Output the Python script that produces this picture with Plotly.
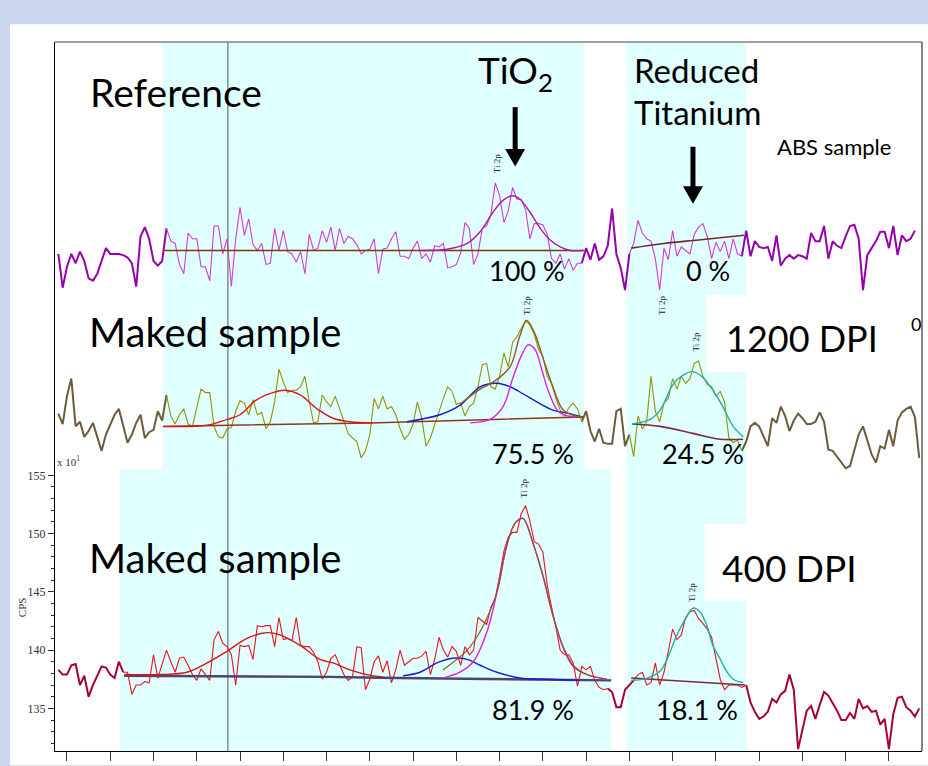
import numpy as np
import plotly.graph_objects as go

# ---------------- data ----------------
# sampling grid of the spectra (arbitrary energy steps, 0.1 per step, one major tick = 1)
X = np.round(np.arange(200) * 0.1 - 0.2, 2)

ref_counts = [
    174.0,171.1,172.9,174.0,173.2,174.2,173.4,171.9,171.7,172.3,
    173.4,174.5,174.0,174.0,174.0,173.9,173.7,173.2,171.2,175.5,
    176.3,175.3,173.4,173.0,173.4,176.2,175.1,174.9,173.1,172.3,
    175.8,175.3,175.3,172.9,172.9,171.7,176.4,176.4,174.0,175.3,
    171.2,175.3,178.0,175.6,177.0,174.8,174.3,174.9,173.1,173.2,
    176.2,174.3,176.0,174.2,174.0,173.3,174.2,172.3,175.7,174.3,
    174.5,176.0,175.0,176.3,174.3,176.2,174.9,175.5,175.3,174.8,
    174.0,174.3,174.4,175.3,172.3,174.4,174.5,175.3,175.9,173.8,
    173.8,173.6,174.5,175.1,173.6,174.0,173.3,174.7,174.6,174.9,
    172.8,172.9,173.1,174.1,176.7,176.2,173.1,174.0,176.2,176.4,
    177.4,180.1,179.0,176.7,177.7,179.7,178.7,178.7,177.8,175.3,
    176.6,176.6,176.5,175.7,173.6,173.2,174.0,172.7,173.6,172.6,
    173.2,173.2,174.5,173.5,174.9,173.5,173.8,174.7,177.9,174.0,
    172.8,170.9,174.0,174.9,176.9,175.8,175.3,175.1,173.6,170.9,
    174.5,173.5,176.0,173.8,174.6,174.3,174.0,175.7,176.3,176.6,
    175.5,173.6,175.0,174.2,175.1,173.6,175.3,174.0,173.8,176.0,
    173.8,175.1,174.6,174.5,174.6,173.4,175.6,173.0,173.6,173.9,
    173.6,173.9,173.8,173.6,175.8,175.1,175.1,176.4,173.6,175.1,
    174.7,174.5,175.5,176.4,176.5,175.3,170.9,173.9,174.5,175.1,
    175.9,175.9,174.5,176.4,173.9,175.6,175.1,175.3,176.0,
]

dpi1200_counts = [
    160.3,159.4,161.8,163.3,159.2,159.6,158.3,158.8,159.5,158.2,
    157.1,158.5,159.3,160.2,160.7,159.2,157.8,158.5,159.5,160.2,
    158.2,158.7,158.9,160.5,159.7,161.9,160.1,159.4,160.2,160.7,
    159.4,159.2,160.9,162.4,162.1,162.1,159.2,158.3,158.2,159.0,
    159.1,160.5,161.4,161.2,160.2,161.5,160.2,160.4,159.0,159.6,
    161.3,164.1,163.0,162.1,162.3,162.3,162.6,163.5,161.3,159.5,
    159.6,161.9,161.3,160.9,161.8,160.7,159.6,158.6,158.2,157.9,
    156.5,157.1,158.5,161.6,160.7,161.8,160.7,160.9,160.2,159.0,
    158.1,158.5,159.4,161.3,159.9,157.5,158.2,159.4,160.5,161.6,
    162.6,162.2,161.1,161.2,160.1,160.9,161.2,162.6,164.5,164.6,
    162.6,162.4,163.5,165.5,164.3,166.4,166.9,167.6,168.3,167.9,
    167.1,165.8,165.2,163.5,162.9,161.6,160.6,160.1,160.8,161.2,
    160.7,159.6,160.5,158.8,157.9,159.0,157.8,157.7,157.7,160.5,
    160.7,157.5,158.5,156.6,160.1,159.0,159.6,163.5,160.5,159.6,
    161.2,161.6,163.3,162.4,163.5,162.9,163.3,164.6,164.8,163.5,
    162.8,162.6,161.8,162.2,161.3,158.2,157.8,158.0,157.1,157.9,
    159.2,159.5,159.2,158.3,157.5,159.9,159.5,160.9,160.1,158.8,
    159.7,160.3,159.9,159.4,159.4,159.6,160.4,159.6,157.2,157.1,
    156.6,156.1,155.6,155.8,157.1,158.5,159.2,157.9,156.8,156.1,
    157.5,157.3,158.9,157.5,159.7,160.4,160.7,160.9,160.0,156.5,
]

dpi400_counts = [
    138.3,137.9,137.9,138.7,138.8,137.0,137.8,136.0,137.0,137.8,
    138.6,138.5,137.9,137.6,139.0,138.1,138.1,136.2,137.0,137.0,
    137.3,137.2,139.6,137.6,138.9,140.0,139.0,138.1,139.3,139.4,
    138.7,137.9,137.4,138.4,137.9,137.4,140.9,141.6,140.6,140.3,
    139.6,137.0,140.4,140.3,140.4,139.2,142.1,142.0,142.1,142.1,
    140.3,142.8,140.9,141.0,140.8,142.8,140.4,140.3,140.3,139.8,
    139.0,137.5,138.1,139.3,139.6,138.7,137.9,137.4,137.7,140.3,
    140.2,136.6,137.5,139.0,139.5,138.1,139.1,137.2,138.3,140.0,
    138.7,139.0,139.3,139.3,139.5,139.9,137.9,139.2,141.1,140.0,
    139.4,140.3,139.9,138.7,140.3,139.6,140.0,142.8,142.5,142.2,
    143.7,144.4,146.4,148.5,149.7,150.1,150.1,151.7,152.4,151.1,
    149.3,149.1,148.4,145.6,143.7,142.0,140.0,139.6,139.6,138.9,
    136.9,138.6,138.3,138.6,137.4,136.8,136.6,136.7,136.4,135.1,
    135.1,136.6,137.0,137.4,137.9,138.1,137.0,137.2,138.9,137.0,
    138.1,139.9,141.8,140.9,141.3,142.8,143.3,143.4,142.7,142.3,
    141.8,141.1,139.2,137.5,136.6,137.0,137.0,137.0,136.8,137.0,
    135.5,134.7,134.1,134.3,134.7,135.8,135.5,136.2,136.5,137.9,
    136.6,131.5,133.2,134.8,135.2,134.1,135.3,136.4,136.1,135.5,
    134.8,134.0,134.0,134.6,134.1,135.8,135.0,135.2,134.7,134.8,
    133.6,134.1,131.5,134.5,135.9,136.0,135.1,134.8,134.3,135.0,
]

# fitted components
ref_fit_x = [8.2, 8.78, 9.25, 9.55, 9.85, 10.08, 10.29, 10.47, 10.70, 10.94, 11.17, 11.40, 11.63, 11.93]
ref_fit_y = [174.3, 174.4, 174.9, 175.9, 177.6, 178.6, 179.0, 178.7, 177.6, 176.2, 175.2, 174.6, 174.3, 174.3]
ref_bg1_x = [2.25, 11.95]
ref_bg1_y = [174.3, 174.3]
ref_bg2_x = [13.04, 13.8, 14.6, 15.65]
ref_bg2_y = [174.5, 174.9, 175.2, 175.6]

m_red_x = [2.22, 3.24, 3.70, 4.00, 4.39, 4.76, 5.04, 5.39, 5.78, 6.15, 6.54, 7.07]
m_red_y = [159.2, 159.3, 159.8, 160.2, 161.5, 162.1, 162.3, 161.9, 160.7, 159.9, 159.6, 159.5]
m_blue_x = [7.86, 8.62, 9.08, 9.55, 9.94, 10.24, 10.54, 10.86, 11.23, 11.63, 11.93]
m_blue_y = [159.6, 160.2, 161.0, 162.6, 162.9, 162.6, 162.0, 161.3, 160.6, 160.3, 160.0]
m_mag_x = [9.32, 9.78, 10.08, 10.31, 10.52, 10.66, 10.82, 10.98, 11.12, 11.33, 11.47, 11.74]
m_mag_y = [159.5, 159.8, 160.9, 163.4, 165.4, 166.2, 165.8, 164.0, 162.3, 160.6, 160.2, 160.0]
m_env_x = [9.08, 9.55, 9.85, 10.24, 10.47, 10.63, 10.82, 11.00, 11.23, 11.47, 11.74, 11.93]
m_env_y = [161.1, 162.4, 163.0, 164.3, 167.0, 168.3, 167.1, 165.1, 162.6, 160.6, 160.1, 160.0]
m_bg1_x = [2.22, 7.0, 11.93]
m_bg1_y = [159.2, 159.5, 160.0]
m_teal_x = [13.06, 13.48, 13.71, 14.01, 14.24, 14.47, 14.70, 14.93, 15.16, 15.40, 15.63]
m_teal_y = [159.4, 159.8, 160.6, 162.8, 163.6, 163.9, 163.4, 162.3, 160.9, 159.2, 158.3]
m_bg2_x = [13.06, 13.71, 14.47, 15.09, 15.63]
m_bg2_y = [159.4, 159.2, 158.6, 158.1, 158.1]

b_red_x = [1.32, 2.15, 2.77, 3.24, 3.70, 4.16, 4.62, 4.92, 5.39, 5.85, 6.15, 6.54, 6.93, 7.30]
b_red_y = [137.9, 137.9, 138.1, 138.9, 139.9, 141.0, 141.5, 141.3, 140.4, 139.2, 138.9, 138.3, 137.9, 137.7]
b_blue_x = [7.77, 8.16, 8.55, 8.92, 9.25, 9.55, 9.94, 10.47, 11.10, 11.86]
b_blue_y = [137.8, 138.1, 138.9, 139.3, 139.2, 138.7, 138.1, 137.6, 137.5, 137.4]
b_mag_x = [8.69, 9.08, 9.39, 9.71, 9.94, 10.17, 10.36, 10.54, 10.77, 11.00, 11.23, 11.47, 11.70, 12.02, 12.48]
b_mag_y = [137.6, 138.1, 139.0, 141.6, 145.0, 149.0, 150.9, 151.3, 149.2, 146.4, 143.0, 140.2, 138.6, 137.9, 137.5]
b_env_x = [8.69, 9.25, 9.55, 9.94, 10.17, 10.36, 10.54, 10.77, 11.00, 11.23, 11.47, 11.70, 12.02, 12.48]
b_env_y = [138.3, 140.0, 141.6, 145.0, 149.1, 150.9, 151.3, 149.2, 146.4, 143.0, 140.3, 138.7, 137.9, 137.5]
b_bg1_x = [1.32, 6.08, 7.70, 12.58]
b_bg1_y = [137.8, 137.7, 137.6, 137.4]
b_teal_x = [13.04, 13.41, 13.71, 13.87, 14.10, 14.33, 14.47, 14.63, 14.79, 14.93, 15.09, 15.26, 15.40, 15.63]
b_teal_y = [137.4, 137.6, 138.2, 139.2, 141.3, 142.9, 143.6, 143.3, 142.1, 140.4, 139.3, 138.1, 137.5, 137.2]
b_bg2_x = [13.04, 15.67]
b_bg2_y = [137.6, 137.0]

y_major = [135, 140, 145, 150, 155]
y_minor = list(range(131, 156))
x_ticks = list(range(0, 20))

fit_regions_top = [(2.25, 11.95), (12.95, 15.65)]
fit_regions_bottom = [(1.25, 12.58), (13.04, 15.70)]

# ---------------- figure ----------------
fig = go.Figure()


def split(y, regions):
    y = np.array(y, dtype=float)
    x = X[:len(y)]
    inside = np.zeros(len(y), bool)
    for a, b in regions:
        inside |= (x >= a) & (x <= b)
    out = ~inside
    thick = out.copy()
    thick[1:] |= out[:-1]
    thick[:-1] |= out[1:]
    thin_y = [v if m else None for v, m in zip(y, inside)]
    thick_y = [v if m else None for v, m in zip(y, thick)]
    return x, thin_y, thick_y


def raw(y, regions, thin_col, thick_col):
    x, thin_y, thick_y = split(y, regions)
    fig.add_trace(go.Scatter(x=x, y=thick_y, mode="lines", line=dict(color=thick_col, width=2),
                             connectgaps=False, hoverinfo="skip"))
    fig.add_trace(go.Scatter(x=x, y=thin_y, mode="lines", line=dict(color=thin_col, width=1.1),
                             connectgaps=False, hoverinfo="skip"))


def curve(xs, ys, col, w=1.4):
    fig.add_trace(go.Scatter(x=xs, y=ys, mode="lines", line=dict(color=col, width=w, shape="spline"),
                             hoverinfo="skip"))


# Reference
raw(ref_counts, fit_regions_top, "#d23cd2", "#9400aa")
curve(ref_bg1_x, ref_bg1_y, "#7b3a0a", 1.5)
curve(ref_bg2_x, ref_bg2_y, "#6e2a2a", 1.6)
curve(ref_fit_x, ref_fit_y, "#b01aa0", 1.4)

# 1200 DPI
raw(dpi1200_counts, fit_regions_top, "#939300", "#6e5a3c")
curve(m_bg1_x, m_bg1_y, "#8b3c14", 1.5)
curve(m_red_x, m_red_y, "#e0141e")
curve(m_blue_x, m_blue_y, "#1c1cc8")
curve(m_mag_x, m_mag_y, "#e020e0")
curve(m_env_x, m_env_y, "#8b5a20")
curve(m_bg2_x, m_bg2_y, "#7d2a3c", 1.6)
curve(m_teal_x, m_teal_y, "#20b0a8")

# 400 DPI
raw(dpi400_counts, fit_regions_bottom, "#e8141e", "#a4003c")
curve(b_bg1_x, b_bg1_y, "#4d4470", 2.4)
curve(b_red_x, b_red_y, "#d81418")
curve(b_blue_x, b_blue_y, "#1c1cc8")
curve(b_mag_x, b_mag_y, "#e020e0")
curve(b_env_x, b_env_y, "#8b5a20", 1.2)
curve(b_bg2_x, b_bg2_y, "#7d2a3c", 1.6)
curve(b_teal_x, b_teal_y, "#20b0a8")

CYAN = "#e0ffff"
shapes = [
    # white slide panel
    dict(type="rect", xref="paper", yref="paper", x0=-0.0519, x1=1.01, y0=-0.02, y1=1.0252,
         fillcolor="white", line_width=0, layer="below"),
    # shaded fit regions
    dict(type="rect", x0=2.22, x1=11.95, y0=155.5, y1=200, fillcolor=CYAN, line_width=0, layer="below"),
    dict(type="rect", x0=1.23, x1=12.58, y0=120, y1=155.5, fillcolor=CYAN, line_width=0, layer="below"),
    dict(type="rect", x0=12.94, x1=15.70, y0=120, y1=200, fillcolor=CYAN, line_width=0, layer="below"),
    # white label boxes
    dict(type="rect", x0=14.77, x1=25, y0=163.9, y1=170.5, fillcolor="white", line_width=0, layer="below"),
    dict(type="rect", x0=14.75, x1=25, y0=144.2, y1=150.8, fillcolor="white", line_width=0, layer="below"),
    # vertical cursor line
    dict(type="line", x0=3.72, x1=3.72, y0=120, y1=200, line=dict(color="#555555", width=1), layer="below"),
    # top / right frame
    dict(type="line", xref="paper", yref="paper", x0=0, x1=1, y0=1, y1=1, line=dict(color="#808080", width=1.5)),
    dict(type="line", xref="paper", yref="paper", x0=1, x1=1, y0=0, y1=1, line=dict(color="#333333", width=1.2)),
    # arrows (shaft + head) in data space
    dict(type="line", x0=10.36, x1=10.36, y0=186.6, y1=182.5, line=dict(color="black", width=5)),
    dict(type="path", path="M 10.13 183.0 L 10.59 183.0 L 10.36 181.5 Z", fillcolor="black", line_width=0),
    dict(type="line", x0=14.47, x1=14.47, y0=183.2, y1=179.3, line=dict(color="black", width=5)),
    dict(type="path", path="M 14.24 179.8 L 14.70 179.8 L 14.47 178.3 Z", fillcolor="black", line_width=0),
]

BIG = "Lato, 'Open Sans', sans-serif"
SER = "'Liberation Serif', 'DejaVu Serif', serif"


def txt(x, y, s, size, anchor="left", angle=0, family=BIG, color="black", xref="x", yref="y"):
    return dict(x=x, y=y, xref=xref, yref=yref, text=s, showarrow=False, xanchor=anchor,
                yanchor="middle", textangle=angle, borderpad=0,
                font=dict(family=family, size=size, color=color))


annotations = [
    txt(0.50, 187.9, "Reference", 39),
    txt(10.36, 189.6, "TiO<sub>2</sub>", 37, "center"),
    txt(13.08, 189.8, "Reduced", 33),
    txt(13.08, 186.2, "Titanium", 33),
    txt(16.40, 183.2, "ABS sample", 22),
    txt(10.63, 172.6, "100 %", 27, "center"),
    txt(14.82, 172.6, "0 %", 27, "center"),
    txt(0.48, 167.3, "Maked sample", 40),
    txt(15.20, 166.8, "1200 DPI", 36),
    txt(19.49, 168.0, "0", 18),
    txt(10.77, 156.9, "75.5 %", 27, "center"),
    txt(14.70, 156.9, "24.5 %", 27, "center"),
    txt(0.48, 147.9, "Maked sample", 40),
    txt(15.12, 147.1, "400 DPI", 37),
    txt(10.77, 134.9, "81.9 %", 27, "center"),
    txt(14.56, 134.9, "18.1 %", 27, "center"),
    txt(9.94, 181.7, "Ti 2p", 9, "center", -90, SER, "#222"),
    txt(10.63, 169.6, "Ti 2p", 9, "center", -90, SER, "#222"),
    txt(13.75, 169.6, "Ti 2p", 9, "center", -90, SER, "#222"),
    txt(14.54, 166.4, "Ti 2p", 9, "center", -90, SER, "#222"),
    txt(10.56, 153.9, "Ti 2p", 9, "center", -90, SER, "#222"),
    txt(14.45, 144.9, "Ti 2p", 9, "center", -90, SER, "#222"),
    txt(-0.25, 156.2, "x 10<sup>1</sup>", 11, "left", 0, SER, "#333"),
    txt(-0.038, 0.203, "CPS", 11, "center", -90, SER, "#333", "paper", "paper"),
]

fig.update_layout(
    width=928, height=766,
    margin=dict(l=55, r=6, t=42, b=9),
    paper_bgcolor="#cad7ee",
    plot_bgcolor="white",
    showlegend=False,
    shapes=shapes,
    annotations=annotations,
    xaxis=dict(range=[-0.277, 19.764], showgrid=False, zeroline=False, showline=True, linecolor="black",
               linewidth=1.2, ticks="outside", ticklen=9, tickcolor="#333", tickvals=x_ticks,
               showticklabels=False),
    yaxis=dict(range=[131.34, 192.19], showgrid=False, zeroline=False, showline=True, linecolor="black",
               linewidth=1.2, ticks="outside", ticklen=6, tickcolor="#333", tickvals=y_major,
               ticktext=[str(v) for v in y_major],
               tickfont=dict(family=SER, size=12, color="#333"),
               minor=dict(tickmode="array", tickvals=y_minor, ticks="outside", ticklen=3, tickcolor="#333")),
)

fig.write_html("out.html")
